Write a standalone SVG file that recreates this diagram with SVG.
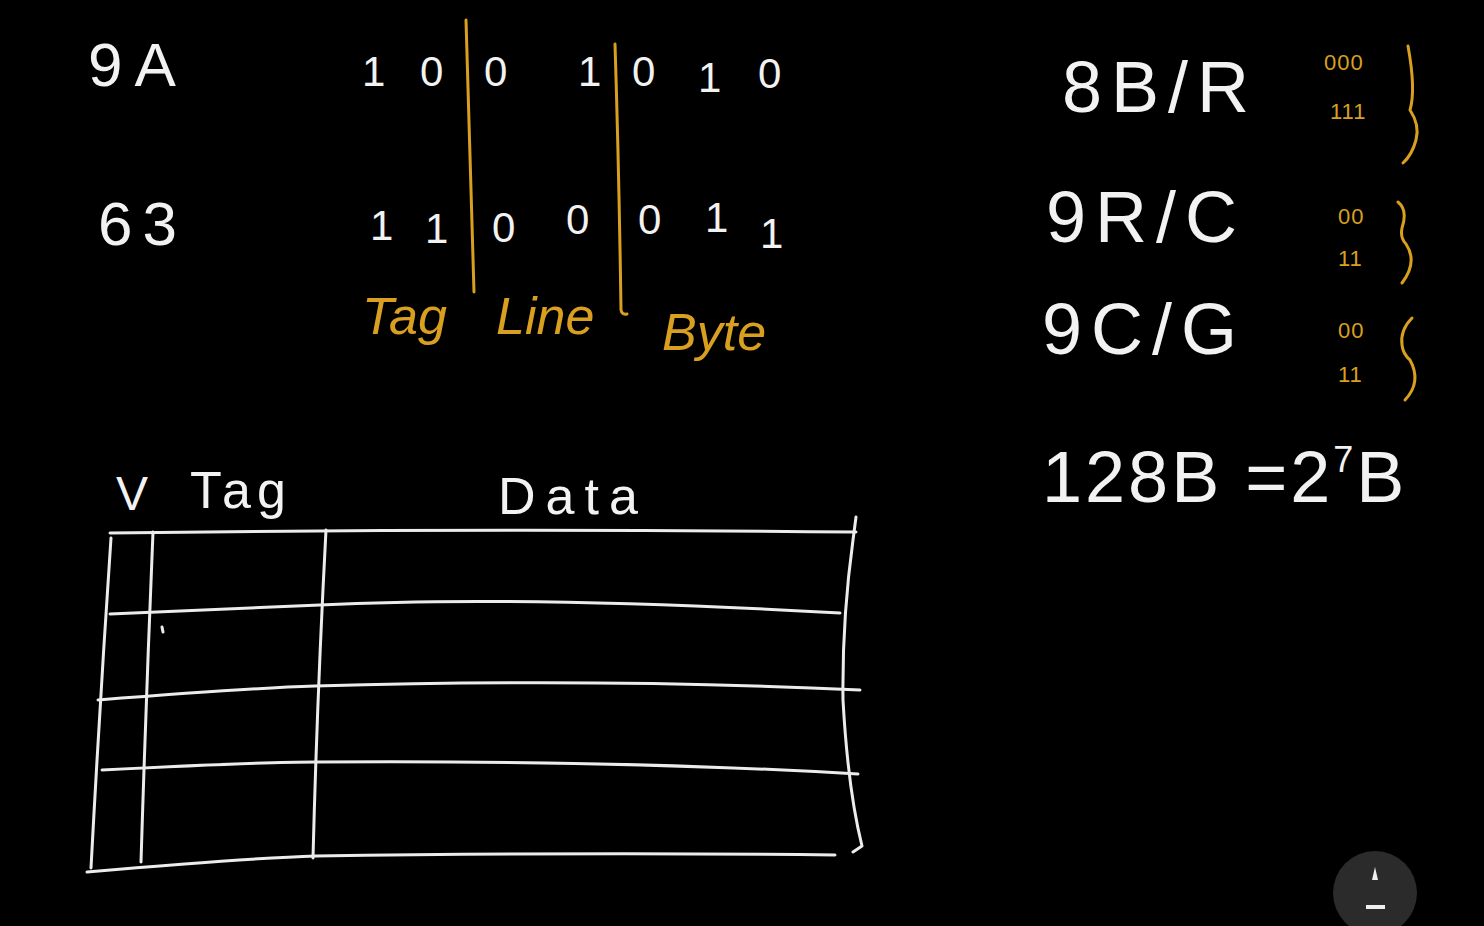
<svg xmlns="http://www.w3.org/2000/svg" width="1484" height="926" viewBox="0 0 1484 926">
<style>
.w{fill:#f2f2f2;font-family:"Liberation Sans",Arial,sans-serif;}
.g{fill:#d9a020;font-family:"Liberation Sans",Arial,sans-serif;}
.ln{fill:none;stroke:#ececec;stroke-width:3;stroke-linecap:round;stroke-linejoin:round;}
.gl{fill:none;stroke:#d9a020;stroke-width:3;stroke-linecap:round;stroke-linejoin:round;}
.d{font-size:42px;}
.big{font-size:72px;letter-spacing:9px;}
.lab{font-size:52px;font-style:italic;}
.sm{font-size:22px;letter-spacing:1px;}
</style>
<rect width="1484" height="926" fill="#000"/>
<g id="addresses">
<text class="w" x="88" y="86" font-size="62" letter-spacing="12">9A</text>
<text class="w" x="98" y="245" font-size="62" letter-spacing="10">63</text>
</g>
<g id="bits-row1" class="w d">
<text x="362" y="86">1</text><text x="420" y="86">0</text>
<text x="484" y="86">0</text><text x="578" y="86">1</text>
<text x="632" y="86">0</text><text x="698" y="92">1</text><text x="758" y="88">0</text>
</g>
<g id="bits-row2" class="w d">
<text x="370" y="240">1</text><text x="425" y="243">1</text>
<text x="492" y="242">0</text><text x="566" y="234">0</text>
<text x="638" y="234">0</text><text x="705" y="232">1</text><text x="760" y="248">1</text>
</g>
<g id="dividers">
<path class="gl" d="M466 20 Q470 150 474 292"/>
<path class="gl" d="M615 44 Q619 170 621 310 Q622 315 627 314"/>
</g>
<g id="field-labels">
<text class="g lab" x="362" y="334">Tag</text>
<text class="g lab" x="496" y="334">Line</text>
<text class="g lab" x="662" y="350">Byte</text>
</g>
<g id="sizes">
<text class="w big" x="1062" y="112">8B/R</text>
<text class="w big" x="1046" y="242">9R/C</text>
<text class="w big" x="1042" y="354">9C/G</text>
<text class="w big" x="1042" y="502" style="letter-spacing:3px">128B =2<tspan font-size="36" dy="-30">7</tspan><tspan dy="30">B</tspan></text>
</g>
<g id="braces">
<text class="g sm" x="1324" y="70">000</text>
<text class="g sm" x="1330" y="119">111</text>
<path class="gl" d="M1408 46 Q1416 90 1410 110 Q1420 125 1416 140 Q1412 155 1403 163"/>
<text class="g sm" x="1338" y="224">00</text>
<text class="g sm" x="1338" y="266">11</text>
<path class="gl" d="M1398 202 Q1408 210 1402 228 Q1400 238 1406 244 Q1418 262 1402 283"/>
<text class="g sm" x="1338" y="338">00</text>
<text class="g sm" x="1338" y="382">11</text>
<path class="gl" d="M1412 318 Q1400 330 1402 345 Q1403 354 1410 360 Q1422 382 1405 400"/>
</g>
<g id="table-headers">
<text class="w" x="116" y="510" font-size="48">V</text>
<text class="w" x="190" y="508" font-size="52" letter-spacing="6">Tag</text>
<text class="w" x="498" y="514" font-size="52" letter-spacing="10">Data</text>
</g>
<g id="cache-table">
<path class="ln" d="M110 533 Q480 528 856 532"/>
<path class="ln" d="M856 517 L853 540 Q842 620 843 700 Q848 790 862 846 L853 852"/>
<path class="ln" d="M111 538 Q100 700 91 868"/>
<path class="ln" d="M153 532 Q146 700 141 862"/>
<path class="ln" d="M326 530 Q317 700 313 858"/>
<path class="ln" d="M110 614 Q300 606 320 605 Q520 595 840 613"/>
<path class="ln" d="M98 700 Q250 688 315 686 Q600 678 860 690"/>
<path class="ln" d="M102 770 Q260 762 316 762 Q620 760 858 774"/>
<path class="ln" d="M87 872 Q250 858 316 856 Q600 852 835 855"/>
<path class="ln" d="M162 627 L163 632" stroke-width="2"/>
</g>
<g id="pencil-button">
<circle cx="1375" cy="893" r="42" fill="#2b2b2b"/>
<path d="M1372 880 L1375 867 L1378 880 Z" fill="#eee"/>
<rect x="1366" y="905" width="19" height="4" fill="#eee"/>
</g>
</svg>
